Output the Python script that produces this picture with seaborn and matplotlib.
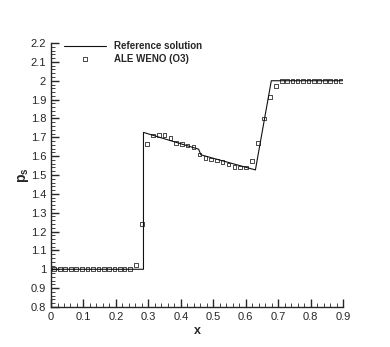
import numpy as np
import pandas as pd
import matplotlib
matplotlib.use('Agg')
import matplotlib.pyplot as plt
from matplotlib.ticker import MultipleLocator, FormatStrFormatter
import seaborn as sns

# Reference solution (piecewise line)
ref_x = [0.0, 0.285, 0.285, 0.455, 0.462, 0.630, 0.679, 0.9]
ref_y = [1.0, 1.0, 1.726, 1.637, 1.607, 1.527, 2.0, 2.0]

# ALE WENO (O3) cell values
weno_x = [0.010, 0.028, 0.044, 0.062, 0.078, 0.096, 0.112, 0.130, 0.146, 0.163,
          0.179, 0.196, 0.212, 0.227, 0.243, 0.261, 0.280, 0.295, 0.314, 0.333,
          0.350, 0.368, 0.386, 0.403, 0.421, 0.439, 0.458, 0.476, 0.494, 0.511,
          0.529, 0.547, 0.566, 0.583, 0.600, 0.619, 0.638, 0.657, 0.676, 0.693,
          0.711, 0.727, 0.744, 0.760, 0.777, 0.794, 0.810, 0.827, 0.844, 0.860,
          0.877, 0.894]
weno_y = [1.0, 1.0, 1.0, 1.0, 1.0, 1.0, 1.0, 1.0, 1.0, 1.0,
          1.0, 1.0, 1.0, 1.0, 1.003, 1.024, 1.24, 1.665, 1.710, 1.713,
          1.712, 1.695, 1.668, 1.663, 1.657, 1.650, 1.608, 1.589, 1.582, 1.577,
          1.569, 1.555, 1.544, 1.539, 1.540, 1.576, 1.668, 1.799, 1.915, 1.972,
          2.0, 2.0, 2.0, 2.0, 2.0, 2.0, 2.0, 2.0, 2.0, 2.0,
          2.0, 2.0]

sns.set_style('ticks')
plt.rcParams['font.family'] = ['Liberation Sans', 'DejaVu Sans']
plt.rcParams['mathtext.fontset'] = 'custom'
plt.rcParams['mathtext.bf'] = 'Liberation Sans:bold'
plt.rcParams['mathtext.rm'] = 'Liberation Sans'

fig = plt.figure(figsize=(3.9, 3.47), dpi=100)
ax = fig.add_axes([0.1308, 0.1153, 0.7487, 0.7607])

sns.lineplot(x=ref_x, y=ref_y, sort=False, estimator=None, color='#111111',
             linewidth=0.8, label='Reference solution', ax=ax)
sns.scatterplot(x=weno_x, y=weno_y, marker='s', s=7, facecolor='none',
                edgecolor='black', linewidth=0.5, label='ALE WENO (O3)', ax=ax)

ax.set_xlim(0, 0.9)
ax.set_ylim(0.8, 2.2)
ax.xaxis.set_major_locator(MultipleLocator(0.1))
ax.xaxis.set_minor_locator(MultipleLocator(0.02))
ax.yaxis.set_major_locator(MultipleLocator(0.1))
ax.yaxis.set_minor_locator(MultipleLocator(0.02))
ax.xaxis.set_major_formatter(FormatStrFormatter('%g'))
ax.yaxis.set_major_formatter(FormatStrFormatter('%g'))
ax.tick_params(which='major', direction='in', length=6, width=1, labelsize=8, pad=3.5)
ax.tick_params(which='minor', direction='in', length=3, width=0.6)
ax.tick_params(top=False, right=False)
sns.despine(ax=ax)
for s in ['left', 'bottom']:
    ax.spines[s].set_linewidth(1)

ax.set_xlabel('x', fontsize=9, fontweight='bold', labelpad=2)
ax.set_ylabel(r'$\mathbf{p}_\mathbf{s}$', fontsize=10, labelpad=0)

leg = ax.legend(loc='upper left', bbox_to_anchor=(0.044, 1.008), frameon=False,
                fontsize=7, handlelength=4.3, handletextpad=0.9,
                labelspacing=0.3, borderpad=0, borderaxespad=0)
for t in leg.get_texts():
    t.set_fontweight('bold')

plt.savefig('out.png', dpi=100)
